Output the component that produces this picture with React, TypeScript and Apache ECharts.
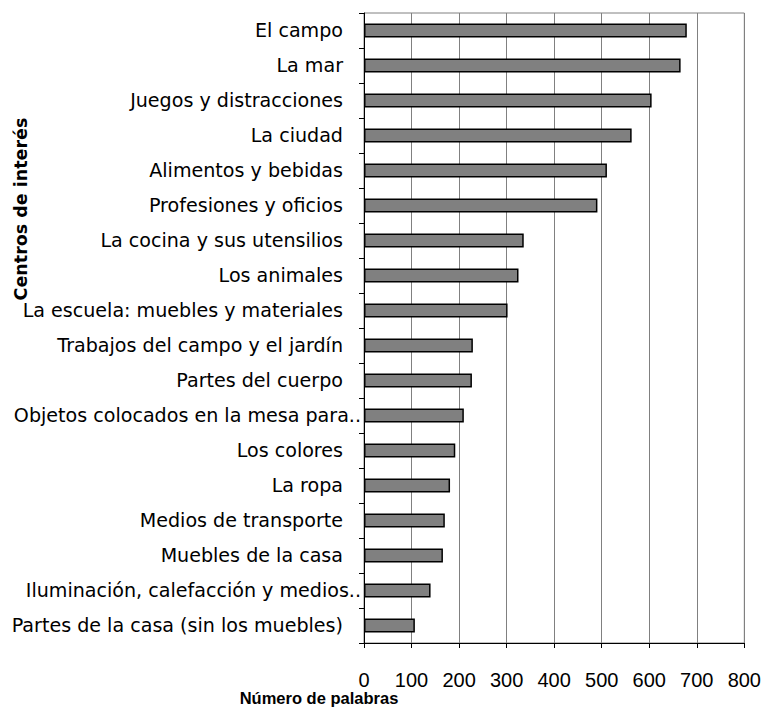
import React, { useEffect, useRef } from "react";
import * as echarts from "echarts";

const categories = [
  "El campo",
  "La mar",
  "Juegos y distracciones",
  "La ciudad",
  "Alimentos y bebidas",
  "Profesiones y oficios",
  "La cocina y sus utensilios",
  "Los animales",
  "La escuela: muebles y materiales",
  "Trabajos del campo y el jardín",
  "Partes del cuerpo",
  "Objetos colocados en la mesa para..",
  "Los colores",
  "La ropa",
  "Medios de transporte",
  "Muebles de la casa",
  "Iluminación, calefacción y medios..",
  "Partes de la casa (sin los muebles)",
];

const values = [679, 666, 605, 563, 511, 491, 336, 325, 302, 229, 227, 210, 192, 181, 170, 166, 140, 107];

const xMin = 0;
const xMax = 800;
const xInterval = 100;

const xAxisName = "Número de palabras";
const yAxisName = "Centros de interés";

export default function App() {
  const ref = useRef<HTMLDivElement>(null);

  useEffect(() => {
    document.body.style.margin = "0";
    if (!ref.current) return;
    const chart = echarts.init(ref.current, null, { renderer: "svg" });
    const catData = categories.map((c) =>
      c.endsWith("..")
        ? { value: c, textStyle: { padding: [0, -18, 0, 0] } }
        : c
    );
    chart.setOption({
      animation: false,
      backgroundColor: "#ffffff",
      grid: {
        left: 364,
        right: 19,
        top: 13,
        bottom: 64,
        show: true,
        borderColor: "#808080",
        borderWidth: 1,
      },
      xAxis: {
        type: "value",
        min: xMin,
        max: xMax,
        interval: xInterval,
        axisLine: { show: true, lineStyle: { color: "#000", width: 1 } },
        axisTick: { show: true, length: 5, lineStyle: { color: "#000" } },
        axisLabel: {
          margin: 27,
          color: "#000",
          fontFamily: "Liberation Sans",
          fontSize: 20,
        },
        splitLine: { show: true, lineStyle: { color: "#808080", width: 1 } },
      },
      yAxis: {
        type: "category",
        data: catData,
        inverse: true,
        axisLine: { show: true, lineStyle: { color: "#000", width: 1 } },
        axisTick: { show: true, length: 5, lineStyle: { color: "#000" } },
        axisLabel: {
          margin: 21,
          color: "#000",
          fontFamily: "DejaVu Sans",
          fontSize: 19.1,
          interval: 0,
        },
        splitLine: { show: false },
      },
      series: [
        {
          type: "bar",
          data: values,
          barWidth: 14,
          itemStyle: { color: "#808080", borderColor: "#000", borderWidth: 1.5 },
        },
      ],
      graphic: [
        {
          type: "text",
          x: 319,
          y: 698,
          style: {
            text: xAxisName,
            fill: "#000",
            font: "bold 16.5px 'Liberation Sans'",
            align: "center",
            verticalAlign: "middle",
          },
        },
        {
          type: "text",
          x: 21,
          y: 209,
          rotation: Math.PI / 2,
          style: {
            text: yAxisName,
            fill: "#000",
            font: "bold 17.5px 'DejaVu Sans'",
            align: "center",
            verticalAlign: "middle",
          },
        },
      ],
    });
    return () => chart.dispose();
  }, []);

  return <div ref={ref} style={{ width: 764, height: 707 }} />;
}
